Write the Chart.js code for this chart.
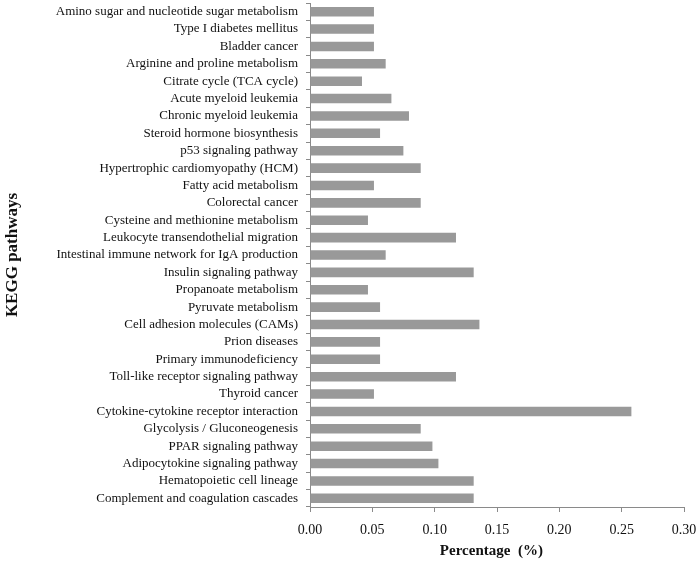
<!DOCTYPE html>
<html>
<head>
<meta charset="utf-8">
<script src="https://cdn.jsdelivr.net/npm/chart.js@4/dist/chart.umd.min.js"></script>
<style>
html,body{margin:0;padding:0;background:#fff;}
#wrap{width:697px;height:561px;position:relative;}
</style>
</head>
<body>
<div id="wrap"><canvas id="c"></canvas></div>
<script>
const categories = [
  "Amino sugar and nucleotide sugar metabolism",
  "Type I diabetes mellitus",
  "Bladder cancer",
  "Arginine and proline metabolism",
  "Citrate cycle (TCA cycle)",
  "Acute myeloid leukemia",
  "Chronic myeloid leukemia",
  "Steroid hormone biosynthesis",
  "p53 signaling pathway",
  "Hypertrophic cardiomyopathy (HCM)",
  "Fatty acid metabolism",
  "Colorectal cancer",
  "Cysteine and methionine metabolism",
  "Leukocyte transendothelial migration",
  "Intestinal immune network for IgA production",
  "Insulin signaling pathway",
  "Propanoate metabolism",
  "Pyruvate metabolism",
  "Cell adhesion molecules (CAMs)",
  "Prion diseases",
  "Primary immunodeficiency",
  "Toll-like receptor signaling pathway",
  "Thyroid cancer",
  "Cytokine-cytokine receptor interaction",
  "Glycolysis / Gluconeogenesis",
  "PPAR signaling pathway",
  "Adipocytokine signaling pathway",
  "Hematopoietic cell lineage",
  "Complement and coagulation cascades"
];
const percentages = [
  0.0513, 0.0513, 0.0513, 0.0607, 0.0417, 0.0653, 0.0794, 0.0562, 0.0749, 0.0888,
  0.0513, 0.0888, 0.0465, 0.1171, 0.0607, 0.1313, 0.0465, 0.0562, 0.1359, 0.0562,
  0.0562, 0.1171, 0.0513, 0.2578, 0.0888, 0.0982, 0.1030, 0.1313, 0.1313
];
const xTicks = [0, 0.05, 0.10, 0.15, 0.20, 0.25, 0.30];
const xTitle = "Percentage  (%)   ";
const yTitle = "KEGG pathways";

const FONT = "'Liberation Serif', 'Times New Roman', serif";
const PAD = {left: 2, right: 13, top: 3, bottom: 0};
const AREA = {left: 310, bottom: 507};

function zeroPad(scale){
  scale.paddingTop = 0; scale.paddingBottom = 0;
  scale.paddingLeft = 0; scale.paddingRight = 0;
}

new Chart(document.getElementById('c'), {
  type: 'bar',
  data: {
    labels: categories,
    datasets: [{
      data: percentages,
      backgroundColor: '#999999',
      borderWidth: 0,
      categoryPercentage: 1.0,
      barPercentage: 0.55
    }]
  },
  options: {
    indexAxis: 'y',
    responsive: true,
    maintainAspectRatio: false,
    animation: false,
    layout: {padding: PAD},
    plugins: {legend: {display: false}, tooltip: {enabled: false}},
    scales: {
      x: {
        type: 'linear',
        min: 0, max: 0.30,
        afterBuildTicks(scale){ scale.ticks = xTicks.map(v => ({value: v})); },
        afterFit(scale){ scale.height = 561 - AREA.bottom - PAD.bottom; zeroPad(scale); },
        border: {display: true, color: '#8a8a8a', width: 1},
        grid: {drawOnChartArea: false, drawTicks: true, tickLength: 5, color: '#8a8a8a'},
        ticks: {
          color: '#111',
          font: {family: FONT, size: 14},
          padding: 10,
          maxRotation: 0,
          callback: (v) => Number(v).toFixed(2)
        },
        title: {
          display: true,
          text: xTitle,
          color: '#111',
          font: {family: FONT, size: 15, weight: 'bold'},
          padding: {top: 4, bottom: 1}
        }
      },
      y: {
        type: 'category',
        afterFit(scale){ scale.width = AREA.left - PAD.left; zeroPad(scale); },
        border: {display: true, color: '#8a8a8a', width: 1},
        grid: {drawOnChartArea: false, drawTicks: true, tickLength: 4, color: '#8a8a8a', offset: true},
        ticks: {
          color: '#111',
          font: {family: FONT, size: 13},
          padding: 8,
          autoSkip: false
        },
        title: {
          display: true,
          text: yTitle,
          color: '#111',
          font: {family: FONT, size: 17, weight: 'bold'},
          padding: {top: 0, bottom: 0}
        }
      }
    }
  }
});
</script>
</body>
</html>
